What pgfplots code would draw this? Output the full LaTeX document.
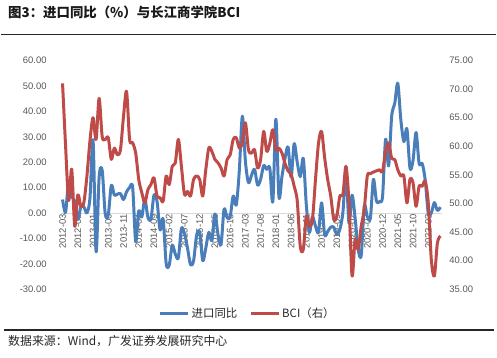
\documentclass[border=0pt]{standalone}
\usepackage{fontspec}
\setmainfont{Liberation Sans}
\newfontfamily\cjk{Noto Sans CJK SC}
\usepackage{pgfplots}
\pgfplotsset{compat=1.18}
\usepackage{pgfplotstable}
\definecolor{sblue}{HTML}{4A7EBB}
\definecolor{sred}{HTML}{BE4B48}
\definecolor{tickgray}{HTML}{595959}
\definecolor{zerogray}{HTML}{D9D9D9}

\pgfplotstableread{
x y
0 5.3
1 0.3
2 12.7
3 6.3
4 4.7
5 -2.6
6 2.4
7 2.4
8 0.0
9 6.0
10 28.8
11 -15.2
12 14.1
13 16.8
14 -0.3
15 -0.7
16 10.9
17 7.0
18 7.4
19 7.6
20 5.3
21 8.3
22 10.0
23 10.1
24 -11.3
25 0.8
26 -1.6
27 5.5
28 -1.6
29 -2.4
30 7.0
31 4.6
32 -6.7
33 -2.4
34 -19.9
35 -20.5
36 -12.7
37 -16.2
38 -17.6
39 -6.1
40 -8.1
41 -13.8
42 -20.4
43 -18.8
44 -8.7
45 -7.6
46 -18.8
47 -13.8
48 -7.6
49 -10.9
50 -0.4
51 -8.4
52 -12.5
53 1.5
54 -1.9
55 -1.4
56 6.7
57 3.1
58 16.7
59 38.1
60 20.3
61 11.9
62 14.8
63 17.2
64 11.0
65 13.3
66 18.7
67 17.2
68 17.7
69 4.5
70 36.9
71 6.3
72 14.4
73 21.5
74 26.0
75 14.1
76 27.3
77 20.0
78 14.3
79 21.4
80 3.0
81 -7.6
82 -1.5
83 -5.2
84 -7.6
85 4.0
86 -8.5
87 -7.3
88 -5.6
89 -5.6
90 -8.5
91 -6.4
92 0.3
93 16.3
94 -4.0
95 7.0
96 -2.0
97 -14.2
98 -16.7
99 2.7
100 -1.4
101 -2.1
102 13.2
103 4.7
104 4.5
105 6.5
106 29.0
107 18.5
108 38.1
109 43.1
110 51.1
111 36.7
112 28.1
113 33.1
114 17.6
115 20.6
116 31.7
117 19.5
118 19.5
119 13.0
120 -0.1
121 0.0
122 4.1
123 1.0
124 2.3
}\imp

\pgfplotstableread{
x y
0 71.0
1 60.0
2 50.5
3 56.0
4 46.0
5 51.5
6 49.5
7 50.2
8 54.8
9 61.0
10 65.0
11 61.2
12 68.4
13 61.7
14 61.2
15 61.5
16 57.7
17 59.7
18 58.5
19 59.4
20 65.2
21 69.6
22 61.2
23 60.6
24 58.8
25 54.2
26 51.9
27 50.1
28 52.4
29 53.3
30 54.5
31 51.3
32 51.0
33 50.4
34 54.8
35 53.3
36 56.5
37 57.1
38 61.2
39 56.5
40 51.6
41 52.1
42 51.3
43 54.2
44 54.8
45 54.2
46 51.3
47 55.9
48 59.7
49 59.1
50 57.7
51 57.1
52 56.2
53 54.8
54 57.7
55 58.5
56 61.2
57 61.5
58 59.7
59 60.6
60 64.1
61 59.4
62 58.8
63 59.4
64 56.2
65 57.7
66 62.6
67 59.1
68 60.5
69 62.9
70 59.4
71 59.7
72 58.8
73 57.0
74 55.7
75 55.1
76 53.0
77 50.5
78 42.5
79 42.0
80 47.8
81 46.0
82 47.2
83 54.2
84 60.6
85 62.6
86 58.0
87 54.2
88 51.3
89 47.2
90 47.8
91 51.3
92 51.6
93 56.5
94 50.0
95 37.3
96 43.7
97 42.0
98 46.0
99 49.0
100 54.8
101 55.2
102 55.5
103 55.7
104 55.9
105 55.6
106 59.0
107 60.6
108 57.9
109 57.7
110 55.9
111 54.8
112 54.8
113 50.1
114 54.2
115 53.6
116 49.5
117 53.0
118 53.0
119 53.9
120 50.1
121 40.2
122 37.3
123 43.1
124 44.3
}\bci

\begin{document}
\begin{tikzpicture}[x=1bp,y=1bp]
\path (0,0) rectangle (497,358);
\begin{axis}[
  set layers,
  at={(60.5bp,68bp)}, anchor=south west,
  scale only axis, width=382bp, height=229.3bp,
  xmin=-0.5, xmax=124.5, ymin=-30, ymax=60,
  axis x line=middle, axis y line=left,
  x axis line style={draw=zerogray, line width=0.8bp, -},
  y axis line style={draw=none, -},
  hide obscured x ticks=false, hide obscured y ticks=false,
  major tick length=0pt,
  xtick={0,5,...,120},
  xticklabels={2012-03,2012-08,2013-01,2013-06,2013-11,2014-04,2014-09,2015-02,2015-07,2015-12,2016-05,2016-10,2017-03,2017-08,2018-01,2018-06,2018-11,2019-04,2019-09,2020-02,2020-07,2020-12,2021-05,2021-10,2022-03},
  xticklabel style={rotate=90, anchor=east, font=\fontsize{9.5}{10}\selectfont, text=tickgray, inner sep=1bp},
  ytick={-30,-20,...,60},
  yticklabel style={font=\fontsize{9.5}{10}\selectfont, text=tickgray, anchor=east, xshift=-11bp},
  /pgf/number format/fixed, /pgf/number format/fixed zerofill,
  /pgf/number format/precision=2, /pgf/number format/assume math mode=true,
]
\addplot[sblue, line width=3bp, smooth, line join=round] table {\imp};
\end{axis}
\begin{axis}[
  set layers,
  at={(60.5bp,68bp)}, anchor=south west,
  scale only axis, width=382bp, height=229.3bp,
  xmin=-0.5, xmax=124.5, ymin=35, ymax=75,
  axis y line*=right, axis x line=none,
  y axis line style={draw=none, -},
  major tick length=0pt,
  ytick={35,40,...,75},
  yticklabel style={font=\fontsize{9.5}{10}\selectfont, text=tickgray, anchor=west, xshift=4bp},
  /pgf/number format/fixed, /pgf/number format/fixed zerofill,
  /pgf/number format/precision=2, /pgf/number format/assume math mode=true,
  legend style={draw=none, fill=none, at={(0.49,-0.105)}, anchor=center,
    legend columns=2, font=\cjk\fontsize{11.5}{13}\selectfont, text=black!85,
    /tikz/every even column/.append style={column sep=10bp}},
  legend image code/.code={\draw[#1] (0bp,0bp) -- (28bp,0bp);},
]
\addlegendimage{sblue, line width=3bp}
\addlegendentry{进口同比}
\addplot[sred, line width=3bp, smooth, line join=round] table {\bci};
\addlegendentry{BCI（右）}
\end{axis}
\node[anchor=west, font=\cjk\bfseries\fontsize{13.5}{15}\selectfont, text=black!90] at (4,346) {图3：进口同比（\%）与长江商学院BCI};
\draw[line width=1.4bp, black!85] (0,323.3) -- (497,323.3);
\draw[line width=1.2bp, black!85] (3,27) -- (495,27);
\node[anchor=west, font=\cjk\fontsize{12}{13}\selectfont, text=black!85] at (4,16) {数据来源：Wind，广发证券发展研究中心};
\end{tikzpicture}
\end{document}
